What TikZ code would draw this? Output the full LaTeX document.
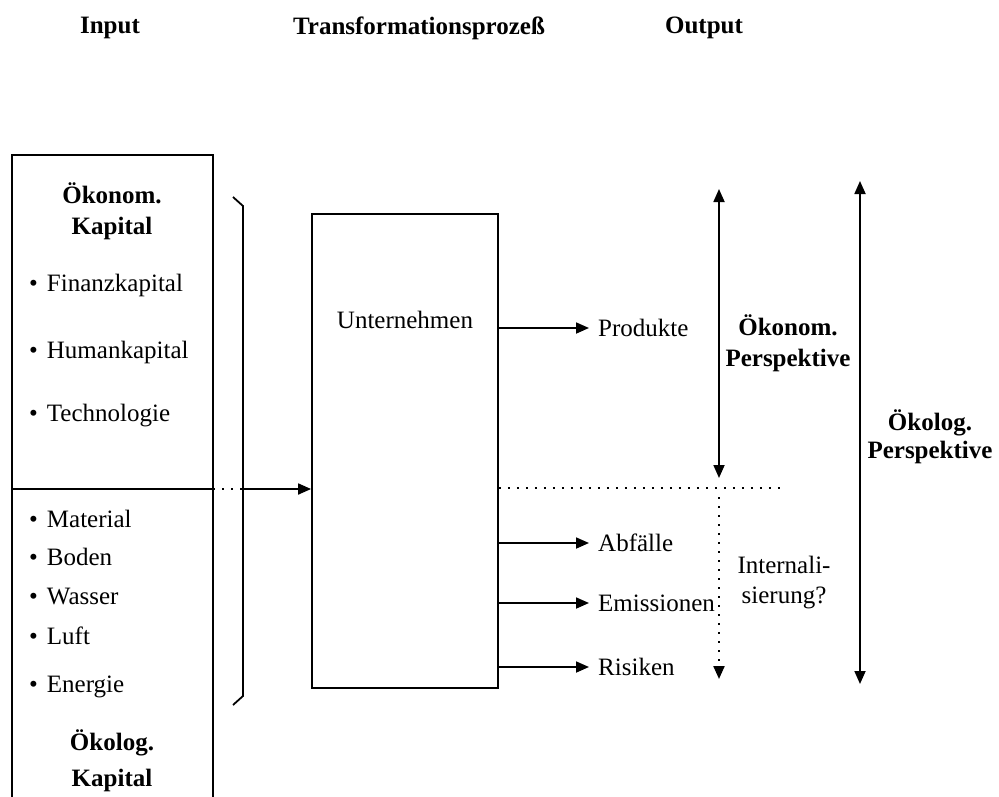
\documentclass[tikz,border=0pt]{standalone}
\usepackage{fontspec}
\setmainfont{Liberation Serif}
\usetikzlibrary{arrows.meta}
\begin{document}
\begin{tikzpicture}[x=1pt,y=-1pt,
  every node/.style={font=\fontsize{25}{30}\selectfont, inner sep=0pt},
  hdr/.style={font=\fontsize{25}{30}\selectfont\bfseries},
  item/.style={anchor=west},
  boldlbl/.style={font=\fontsize{25}{31}\selectfont\bfseries, align=center},
  plainlbl/.style={align=center},
  line/.style={line width=1.8pt},
  arr/.style={line width=1.8pt, -{Triangle[length=13pt,width=11pt]}},
  darr/.style={line width=1.8pt, {Triangle[length=13pt,width=11pt]}-{Triangle[length=13pt,width=11pt]}},
  dots/.style={line width=2.2pt, dash pattern=on 2.2pt off 6.8pt},
]
\useasboundingbox (0,0) rectangle (999,796);

% headers
\node[hdr] (hin) at (110,28) {Input};
\node[hdr] (htr) at (419,28) {Transformationsprozeß};
\node[hdr] (hout) at (704,28) {Output};

% left box (cut off at the bottom)
\coordinate (lbtl) at (12,155);
\coordinate (lbtr) at (213,155);
\draw[line] (12,797) -- (lbtl) -- (lbtr) -- (213,797);
\coordinate (divL) at (12,489);
\coordinate (divR) at (213,489);
\coordinate (brc) at (243,489);
\draw[line] (divL) -- (divR);
\draw[dots] (divR) -- (brc);

\node[boldlbl] (oekk) at (112,211) {Ökonom.\\Kapital};
\node[item] (fin) at (29,285) {•\hspace{9pt}Finanzkapital};
\node[item] (hum) at (29,352) {•\hspace{9pt}Humankapital};
\node[item] (tec) at (29,416) {•\hspace{9pt}Technologie};
\node[item] (mat) at (29,519) {•\hspace{9pt}Material};
\node[item] (bod) at (29,557) {•\hspace{9pt}Boden};
\node[item] (was) at (29,596) {•\hspace{9pt}Wasser};
\node[item] (luf) at (29,636) {•\hspace{9pt}Luft};
\node[item] (ene) at (29,687) {•\hspace{9pt}Energie};
\node[boldlbl, font=\fontsize{25}{36}\selectfont\bfseries] (oklk) at (112,761) {Ökolog.\\Kapital};

% brace
\draw[line] (233,197) -- (243,206) -- (243,696) -- (233,705);

% company box
\node[draw, line width=1.8pt, minimum width=186pt, minimum height=474pt] (firm) at (405,451) {};
\node (firmlab) at (405,320) {Unternehmen};
\draw[arr] (brc) -- (firm.west |- brc);

% outputs
\node[item] (prod) at (598,328) {Produkte};
\node[item] (abf) at (598,543) {Abfälle};
\node[item] (emi) at (598,603) {Emissionen};
\node[item] (ris) at (598,667) {Risiken};
\draw[arr, shorten >=9pt] (firm.east |- prod.west) -- (prod.west);
\draw[arr, shorten >=9pt] (firm.east |- abf.west) -- (abf.west);
\draw[arr, shorten >=9pt] (firm.east |- emi.west) -- (emi.west);
\draw[arr, shorten >=9pt] (firm.east |- ris.west) -- (ris.west);

% economic perspective
\coordinate (ek1) at (719,189);
\coordinate (ek2) at (719,478);
\draw[darr] (ek1) -- (ek2);
\node[boldlbl] (ekl) at (788,343) {Ökonom.\\Perspektive};

% dotted separation and internalisation
\coordinate (dh) at (782,488);
\draw[dots] (firm.east |- dh) -- (dh);
\coordinate (iv1) at (719,497);
\coordinate (iv2) at (719,679);
\draw[dots, -{Triangle[length=13pt,width=11pt]}] (iv1) -- (iv2);
\node[plainlbl] (intl) at (784,583) {Internali-\\sierung?};

% ecological perspective
\coordinate (ok1) at (860,181);
\coordinate (ok2) at (860,684);
\draw[darr] (ok1) -- (ok2);
\node[boldlbl, font=\fontsize{25}{28}\selectfont\bfseries] (okl) at (930,437) {Ökolog.\\Perspektive};
\end{tikzpicture}
\end{document}
